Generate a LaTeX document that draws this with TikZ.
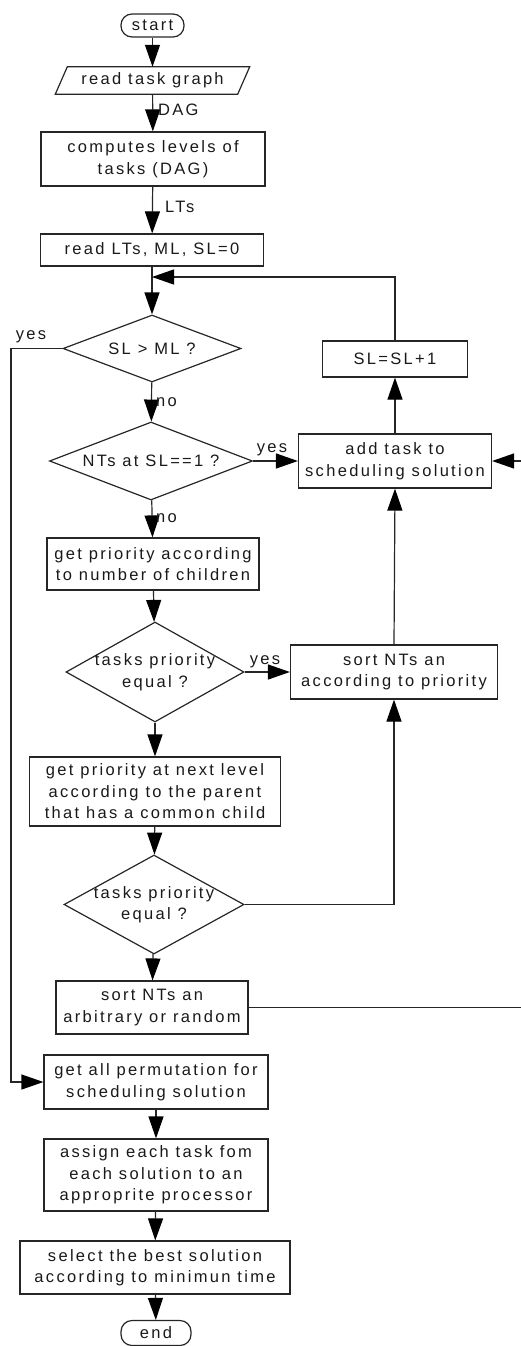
\documentclass[tikz,border=0pt]{standalone}
\usepackage{fontspec}
\setmainfont{Liberation Sans}[LetterSpace=14]
\usetikzlibrary{shapes.geometric,arrows.meta,calc}
\begin{document}
\begin{tikzpicture}[x=1pt,y=-1pt,
  every node/.style={font=\fontsize{16.5}{21.5}\selectfont, text=black!90},
  box/.style={draw=black!85, line width=1.2pt, rectangle, align=center, inner sep=0pt},
  dec/.style={draw=black!85, line width=1.2pt, diamond, inner sep=0pt},
  term/.style={draw=black!85, line width=1.2pt, rounded corners=11pt, inner sep=0pt},
  lbl/.style={align=center, inner sep=0pt},
  ln/.style={draw=black!85, line width=1.2pt},
  arr/.style={ln, -{Triangle[length=22pt,width=15pt,fill=black,color=black]}}]
\useasboundingbox (0,0) rectangle (521,1346);

\node[term, minimum width=63, minimum height=23] (start) at (152.5,25.5) {start};
\node[lbl, minimum width=182, minimum height=27] (rtg) at (152.5,80.5) {read task graph};
\draw[ln] ($(rtg.north west)+(6,0)$) -- ($(rtg.north east)+(6,0)$) -- ($(rtg.south east)+(-6,0)$) -- ($(rtg.south west)+(-6,0)$) -- cycle;
\node[box, minimum width=224, minimum height=54] (comp) at (153,159) {computes levels of\\tasks (DAG)};
\node[box, minimum width=223, minimum height=32] (readlt) at (152,250) {read LTs, ML, SL=0};
\coordinate (merge) at (152,277);
\node[dec, minimum width=178, minimum height=67] (d1) at (152,348.5) {};
\node[lbl] (d1t) at (d1) {SL > ML ?};
\node[box, minimum width=145, minimum height=36] (slinc) at (395,359) {SL=SL+1};
\node[dec, minimum width=203, minimum height=78] (d2) at (151,461) {};
\node[lbl] (d2t) at (d2) {NTs at SL==1 ?};
\node[box, minimum width=193, minimum height=54] (addtask) at (395,461) {add task to\\scheduling solution};
\node[box, minimum width=212, minimum height=52] (b3) at (153,564) {get priority according\\to number of children};
\node[dec, minimum width=178, minimum height=100] (d3) at (155,672) {};
\node[lbl] (d3t) at (d3) {tasks priority\\equal ?};
\node[box, minimum width=207, minimum height=54] (sortp) at (394,672) {sort NTs an\\according to priority};
\node[box, minimum width=251, minimum height=69] (b4) at (155,791.5) {get priority at next level\\according to the parent\\that has a common child};
\node[dec, minimum width=180, minimum height=99] (d4) at (154,904.5) {};
\node[lbl] (d4t) at (d4) {tasks priority\\equal ?};
\node[box, minimum width=192, minimum height=53] (b5) at (152,1007.5) {sort NTs an\\arbitrary or random};
\node[box, minimum width=224, minimum height=54] (b6) at (156,1082) {get all permutation for\\scheduling solution};
\node[box, minimum width=224, minimum height=72] (b7) at (156,1175) {assign each task fom\\each solution to an\\approprite processor};
\node[box, minimum width=270, minimum height=53] (b8) at (155,1267.5) {select the best solution\\according to minimun time};
\node[term, minimum width=70, minimum height=25] (end) at (156,1333) {end};

\coordinate (yc1) at (11,348.5);
\coordinate (rc1) at (535,1007.5);

\draw[arr] (start) -- (rtg);
\draw[arr] (rtg) -- (comp);
\node[lbl, anchor=west] (ldag) at (158,110) {DAG};
\draw[arr] (comp) -- (readlt);
\node[lbl, anchor=west] (llts) at (165,207) {LTs};
\draw[arr] (readlt) -- (d1);
\draw[arr] (slinc.north) |- (merge);
\draw[arr] (d1.west) -- (yc1) |- (b6.west);
\node[lbl] (lyes1) at (31,337) {yes};
\draw[arr] (d1) -- (d2);
\node[lbl, anchor=west] (lno1) at (156,402) {no};
\draw[arr] (d2.east) -- (addtask.west);
\node[lbl] (lyes2) at (272,450) {yes};
\draw[arr] (addtask) -- (slinc);
\draw[arr] (d2) -- (b3);
\node[lbl, anchor=west] (lno2) at (156,518) {no};
\draw[arr] (b3) -- (d3);
\draw[arr] (d3.east) -- (sortp.west);
\node[lbl] (lyes3) at (265,662) {yes};
\draw[arr] (sortp.north) -- (addtask.south);
\draw[arr] (d3) -- (b4);
\draw[arr] (b4) -- (d4);
\draw[arr] (d4.east) -| (sortp.south);
\draw[arr] (d4) -- (b5);
\draw[arr] (b5.east) -- (rc1) |- (addtask.east);
\draw[arr] (b6) -- (b7);
\draw[arr] (b7) -- (b8);
\draw[arr] (b8) -- (end);
\end{tikzpicture}
\end{document}
